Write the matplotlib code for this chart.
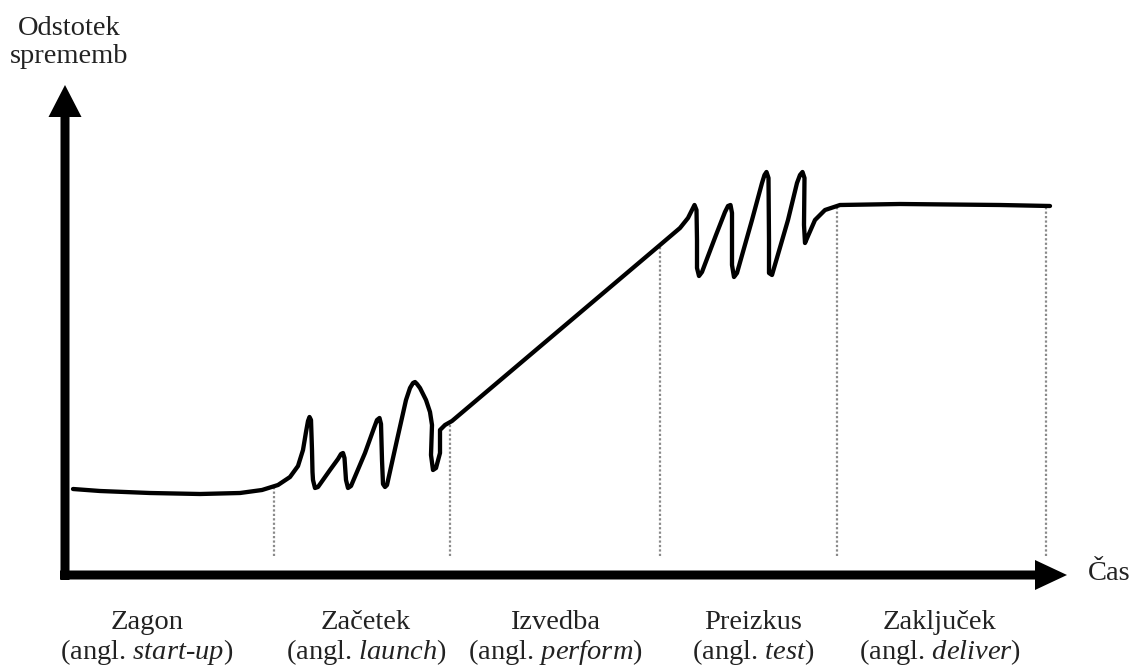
import numpy as np
import matplotlib.pyplot as plt
from matplotlib import rcParams

rcParams.update({'font.family': 'Liberation Serif', 'font.size': 20.5,
                 'mathtext.fontset': 'custom',
                 'mathtext.rm': 'Liberation Serif',
                 'mathtext.it': 'Liberation Serif:italic'})

# curve: time vs. percentage of changes (drawing units)
time_pts = [9, 36, 86, 136, 176, 198, 214, 226, 234, 239, 242, 244, 245.5, 247, 248, 248.5, 249,
            251, 254, 266, 274, 277, 279, 280.5, 282, 284, 287, 301, 310, 313, 315.5, 317, 318, 319,
            321, 323, 333, 342, 346, 349, 351, 353, 356, 362, 366, 368, 367, 369, 372, 376, 376,
            381, 388, 596, 616, 624, 628, 630.5, 632.5, 633, 633, 635, 638, 652, 661, 664, 666.5, 668,
            668, 670, 673, 688, 698, 700.5, 702.5, 704.5, 705, 705, 708, 724, 733, 736, 738.5, 740.5, 740,
            741, 744, 751, 761, 776, 836, 936, 986]
change_pts = [87, 85, 83, 82, 83, 86, 91, 99, 110, 126, 144, 155, 159, 156, 126, 104, 96,
              88, 89, 106, 117, 122, 123, 118, 96, 88, 90, 123, 148, 156, 158, 152, 116, 92,
              89, 91, 136, 176, 188, 193, 194, 192, 188, 176, 164, 151, 121, 106, 108, 123, 146,
              151, 155, 331, 348, 358, 366, 371, 366, 336, 308, 300, 304, 341, 364, 370, 371, 363,
              311, 299, 303, 356, 393, 401, 404, 398, 336, 303, 301, 356, 393, 401, 404, 398, 351,
              333, 340, 356, 366, 371, 372, 371, 370]

phase_bounds = [210, 386, 596, 773, 982]
phase_names = ['Zagon', 'Začetek', 'Izvedba', 'Preizkus', 'Zaključek']
phase_eng = ['start-up', 'launch', 'perform', 'test', 'deliver']
phase_centers = [83, 302, 491, 689, 876]

fig = plt.figure(figsize=(11.34, 6.68), dpi=100)
ax = fig.add_axes([0, 0, 1, 1])
ax.set_xlim(-64, 1070)
ax.set_ylim(-92, 576)
ax.axis('off')

# phase boundaries (dotted)
for tb in phase_bounds:
    top = np.interp(tb, time_pts, change_pts)
    ax.plot([tb, tb], [20, top], color='#8a8a8a', lw=1.6, ls=(0, (1, 1)))

ax.plot(time_pts, change_pts, color='black', lw=3.1,
        solid_joinstyle='round', solid_capstyle='round')

# axes arrows
ax.arrow(1, -4, 0, 495, width=9, head_width=33, head_length=32,
         length_includes_head=True, fc='black', ec='none', clip_on=False)
ax.arrow(-4, 1, 1007, 0, width=9, head_width=30, head_length=32,
         length_includes_head=True, fc='black', ec='none', clip_on=False)

txt = '#222222'
ax.text(5, 541, 'Odstotek', ha='center', va='baseline', color=txt)
ax.text(5, 513, 'sprememb', ha='center', va='baseline', color=txt)
ax.text(1024, -4, 'Čas', ha='left', va='baseline', color=txt)

for name, eng, tc in zip(phase_names, phase_eng, phase_centers):
    ax.text(tc, -53, name, ha='center', va='baseline', color=txt)
    eng_txt = '$\\mathit{' + eng.replace('-', '}$-$\\mathit{') + '}$'
    ax.text(tc, -83, '(angl. ' + eng_txt + ')', ha='center', va='baseline', color=txt)

fig.savefig('out.png', dpi=100)
